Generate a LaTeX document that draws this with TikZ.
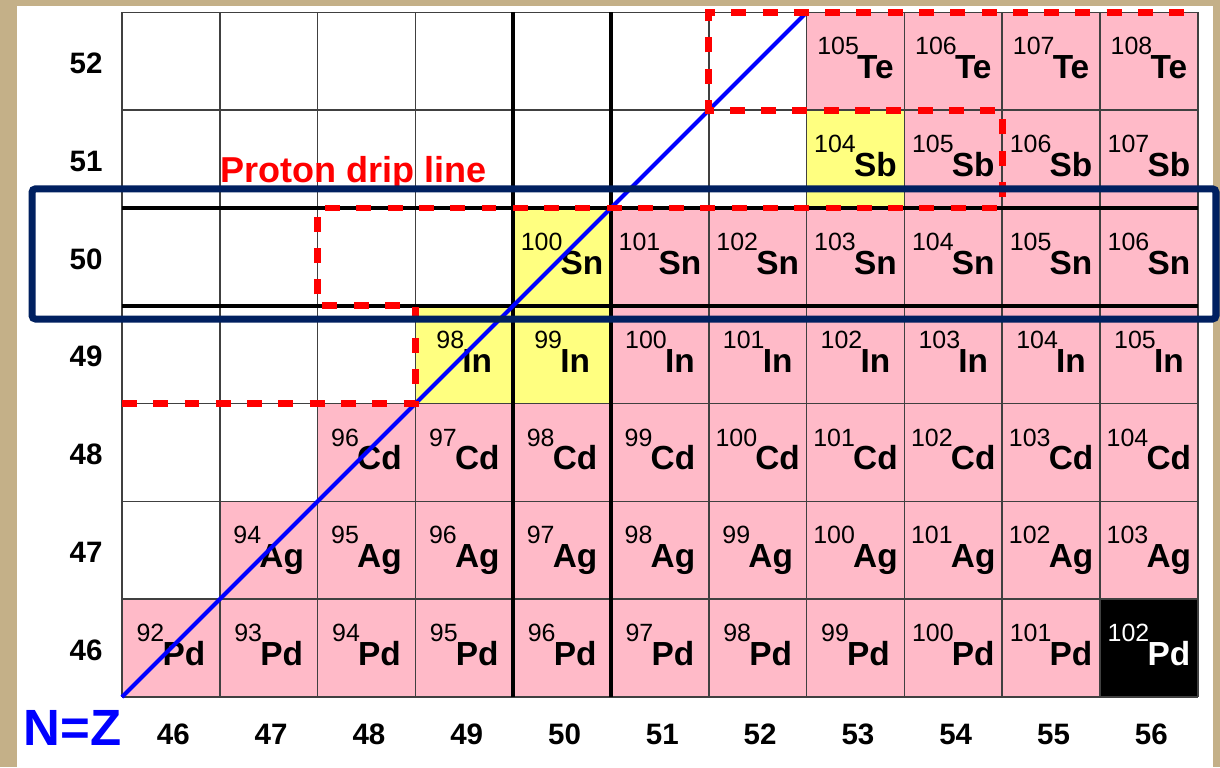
\documentclass[tikz,border=0pt]{standalone}
\usepackage{fontspec}
\setmainfont{Liberation Sans}
\usepackage{xcolor}
\usepackage{tikz}
\usetikzlibrary{positioning}
\definecolor{parch}{RGB}{196,176,136}
\definecolor{cellpink}{RGB}{255,186,200}
\definecolor{cellyellow}{RGB}{255,255,128}
\definecolor{shellframe}{RGB}{0,32,96}
\newcommand\nucl[2]{\raisebox{13.5pt}{\fontsize{14.2}{14.2}\selectfont #1}\kern-1pt{\fontsize{19}{19}\selectfont\bfseries #2}}
\tikzset{
  cell/.style       = {rectangle, inner sep=0pt, outer sep=0pt,     % one chart square
                       minimum width=1.956cm, minimum height=1.956cm,
                       text height=1.324cm, text depth=0.632cm},
  pk/.style         = {cell, fill=cellpink},
  yl/.style         = {cell, fill=cellyellow},
  bk/.style         = {cell, fill=black, text=white},
  thin grid/.style  = {black!75, line width=0.9pt},
  magic/.style      = {black, line width=2.3pt},                     % N=50, Z=50
  drip/.style       = {red, line width=3.8pt, dash pattern=on 8.5pt off 9.3pt},
  nzline/.style     = {blue, line width=2.3pt},
  axislab/.style    = {font=\fontsize{16.8}{16.8}\selectfont\bfseries, inner sep=0pt, anchor=base}
}

\begin{document}
\begin{tikzpicture}[x=1.956cm, y=1.956cm]
  \fill[parch] (-1.2474,-0.7157) rectangle (11.227,7.127);
  \useasboundingbox (-1.2474,-0.7157) rectangle (11.227,7.127);
  \fill[white] (-1.0736,-0.7157) rectangle (11.155,7.065);
  % Z = 46
  \node[pk] (pd92)  at (0.5,0.5)  {\nucl{92}{Pd}};
  \node[pk] (pd93)  at (1.5,0.5)  {\nucl{93}{Pd}};
  \node[pk] (pd94)  at (2.5,0.5)  {\nucl{94}{Pd}};
  \node[pk] (pd95)  at (3.5,0.5)  {\nucl{95}{Pd}};
  \node[pk] (pd96)  at (4.5,0.5)  {\nucl{96}{Pd}};
  \node[pk] (pd97)  at (5.5,0.5)  {\nucl{97}{Pd}};
  \node[pk] (pd98)  at (6.5,0.5)  {\nucl{98}{Pd}};
  \node[pk] (pd99)  at (7.5,0.5)  {\nucl{99}{Pd}};
  \node[pk] (pd100) at (8.5,0.5)  {\nucl{100}{Pd}};
  \node[pk] (pd101) at (9.5,0.5)  {\nucl{101}{Pd}};
  \node[bk] (pd102) at (10.5,0.5) {\nucl{102}{Pd}};
  % Z = 47
  \node[pk] (ag94)  at (1.5,1.5)  {\nucl{94}{Ag}};
  \node[pk] (ag95)  at (2.5,1.5)  {\nucl{95}{Ag}};
  \node[pk] (ag96)  at (3.5,1.5)  {\nucl{96}{Ag}};
  \node[pk] (ag97)  at (4.5,1.5)  {\nucl{97}{Ag}};
  \node[pk] (ag98)  at (5.5,1.5)  {\nucl{98}{Ag}};
  \node[pk] (ag99)  at (6.5,1.5)  {\nucl{99}{Ag}};
  \node[pk] (ag100) at (7.5,1.5)  {\nucl{100}{Ag}};
  \node[pk] (ag101) at (8.5,1.5)  {\nucl{101}{Ag}};
  \node[pk] (ag102) at (9.5,1.5)  {\nucl{102}{Ag}};
  \node[pk] (ag103) at (10.5,1.5) {\nucl{103}{Ag}};
  % Z = 48
  \node[pk] (cd96)  at (2.5,2.5)  {\nucl{96}{Cd}};
  \node[pk] (cd97)  at (3.5,2.5)  {\nucl{97}{Cd}};
  \node[pk] (cd98)  at (4.5,2.5)  {\nucl{98}{Cd}};
  \node[pk] (cd99)  at (5.5,2.5)  {\nucl{99}{Cd}};
  \node[pk] (cd100) at (6.5,2.5)  {\nucl{100}{Cd}};
  \node[pk] (cd101) at (7.5,2.5)  {\nucl{101}{Cd}};
  \node[pk] (cd102) at (8.5,2.5)  {\nucl{102}{Cd}};
  \node[pk] (cd103) at (9.5,2.5)  {\nucl{103}{Cd}};
  \node[pk] (cd104) at (10.5,2.5) {\nucl{104}{Cd}};
  % Z = 49
  \node[yl] (in98)  at (3.5,3.5)  {\nucl{98}{In}};
  \node[yl] (in99)  at (4.5,3.5)  {\nucl{99}{In}};
  \node[pk] (in100) at (5.5,3.5)  {\nucl{100}{In}};
  \node[pk] (in101) at (6.5,3.5)  {\nucl{101}{In}};
  \node[pk] (in102) at (7.5,3.5)  {\nucl{102}{In}};
  \node[pk] (in103) at (8.5,3.5)  {\nucl{103}{In}};
  \node[pk] (in104) at (9.5,3.5)  {\nucl{104}{In}};
  \node[pk] (in105) at (10.5,3.5) {\nucl{105}{In}};
  % Z = 50
  \node[yl] (sn100) at (4.5,4.5)  {\nucl{100}{Sn}};
  \node[pk] (sn101) at (5.5,4.5)  {\nucl{101}{Sn}};
  \node[pk] (sn102) at (6.5,4.5)  {\nucl{102}{Sn}};
  \node[pk] (sn103) at (7.5,4.5)  {\nucl{103}{Sn}};
  \node[pk] (sn104) at (8.5,4.5)  {\nucl{104}{Sn}};
  \node[pk] (sn105) at (9.5,4.5)  {\nucl{105}{Sn}};
  \node[pk] (sn106) at (10.5,4.5) {\nucl{106}{Sn}};
  % Z = 51
  \node[yl] (sb104) at (7.5,5.5)  {\nucl{104}{Sb}};
  \node[pk] (sb105) at (8.5,5.5)  {\nucl{105}{Sb}};
  \node[pk] (sb106) at (9.5,5.5)  {\nucl{106}{Sb}};
  \node[pk] (sb107) at (10.5,5.5) {\nucl{107}{Sb}};
  % Z = 52
  \node[pk] (te105) at (7.5,6.5)  {\nucl{105}{Te}};
  \node[pk] (te106) at (8.5,6.5)  {\nucl{106}{Te}};
  \node[pk] (te107) at (9.5,6.5)  {\nucl{107}{Te}};
  \node[pk] (te108) at (10.5,6.5) {\nucl{108}{Te}};

  \draw[thin grid, step=1] (0,0) grid (11,7);
  \draw[magic] (4,0) -- (4,7);
  \draw[magic] (5,0) -- (5,7);
  \draw[magic] (0,4) -- (11,4);
  \draw[magic] (0,5) -- (11,5);

  \draw[nzline] (pd92.south west) -- (te105.north west);
  \draw[drip] (0,3) -- (3,3) -- (3,4) -- (2,4) -- (2,5) -- (9,5) -- (9,6) -- (6,6) -- (6,7) -- (11,7);

  \node[axislab] (z46) at (-0.368,0.375) {46};
  \node[axislab] (z47) at (-0.368,1.375) {47};
  \node[axislab] (z48) at (-0.368,2.375) {48};
  \node[axislab] (z49) at (-0.368,3.375) {49};
  \node[axislab] (z50) at (-0.368,4.375) {50};
  \node[axislab] (z51) at (-0.368,5.375) {51};
  \node[axislab] (z52) at (-0.368,6.375) {52};
  \node[axislab] (n46) at (0.525,-0.49) {46};
  \node[axislab] (n47) at (1.525,-0.49) {47};
  \node[axislab] (n48) at (2.525,-0.49) {48};
  \node[axislab] (n49) at (3.525,-0.49) {49};
  \node[axislab] (n50) at (4.525,-0.49) {50};
  \node[axislab] (n51) at (5.525,-0.49) {51};
  \node[axislab] (n52) at (6.525,-0.49) {52};
  \node[axislab] (n53) at (7.525,-0.49) {53};
  \node[axislab] (n54) at (8.525,-0.49) {54};
  \node[axislab] (n55) at (9.525,-0.49) {55};
  \node[axislab] (n56) at (10.525,-0.49) {56};
  \node[blue, font=\fontsize{29}{29}\selectfont\bfseries, inner sep=0pt, anchor=base east] (nzlab) at (0,-0.50) {N=Z};
  \node[red, font=\fontsize{20.5}{20.5}\selectfont\bfseries, inner sep=0pt, anchor=base west] (driplab) at (1.0,5.256) {Proton drip line};

  \draw[shellframe, line width=4pt, rounded corners=2pt] (-0.920,3.865) rectangle (11.186,5.196);
\end{tikzpicture}
\end{document}
